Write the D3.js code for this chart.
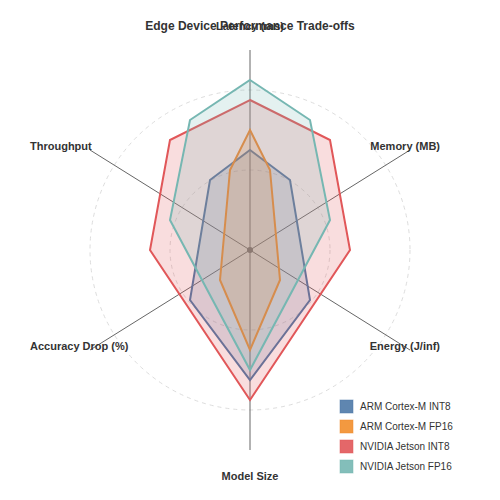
<!DOCTYPE html>
<html>
<head>
<meta charset="utf-8">
<script src="https://cdn.jsdelivr.net/npm/d3@7"></script>
<style>
  html, body { margin: 0; padding: 0; background: #fff; }
  svg { display: block; font-family: "Liberation Sans", Arial, sans-serif; }
</style>
</head>
<body>
<svg id="chart" width="500" height="500"></svg>
<script>
// axis names, clockwise from the top
const axes = ['Latency (ms)', 'Memory (MB)', 'Energy (J/inf)', 'Model Size', 'Accuracy Drop (%)', 'Throughput'];
const seriesNames = ['ARM Cortex-M INT8', 'ARM Cortex-M FP16', 'NVIDIA Jetson INT8', 'NVIDIA Jetson FP16'];
const colors = ['#4e79a7', '#f28e2b', '#e15759', '#76b7b2'];

// vertex positions per series (chart units, y up), one per axis
const armInt8X = [0, 4, 6, 0, -6, -4];
const armInt8Y = [10, 7, -5, -13, -5, 7];
const armFp16X = [0, 2, 3, 0, -3, -2];
const armFp16Y = [12, 8, -3, -10, -3, 8];
const jetsonInt8X = [0, 8, 10, 0, -10, -8];
const jetsonInt8Y = [15, 11, 0, -15, 0, 11];
const jetsonFp16X = [0, 6, 8, 0, -8, -6];
const jetsonFp16Y = [17, 13, 3, -12, 3, 13];

// spoke ends and grid rings
const axisEndX = [0, 16, 16, 0, -16, -16];
const axisEndY = [20, 10, -10, -20, -10, 10];
const gridLevels = [8, 16];

const seriesX = [armInt8X, armFp16X, jetsonInt8X, jetsonFp16X];
const seriesY = [armInt8Y, armFp16Y, jetsonInt8Y, jetsonFp16Y];

const svg = d3.select('#chart');
const x = d3.scaleLinear().domain([-20, 20]).range([50, 450]);
const y = d3.scaleLinear().domain([-20, 20]).range([450, 50]);
const r = d3.scaleLinear().domain([0, 20]).range([0, 200]);

// grid rings
svg.append('g').selectAll('circle')
  .data(gridLevels)
  .join('circle')
  .attr('cx', x(0)).attr('cy', y(0))
  .attr('r', d => r(d))
  .attr('fill', 'none')
  .attr('stroke', '#ddd')
  .attr('stroke-dasharray', '4,4');

// spokes
svg.append('g').selectAll('line')
  .data(axes)
  .join('line')
  .attr('x1', x(0)).attr('y1', y(0))
  .attr('x2', (d, i) => x(axisEndX[i]))
  .attr('y2', (d, i) => y(axisEndY[i]))
  .attr('stroke', '#666')
  .attr('stroke-width', 1);

svg.append('circle')
  .attr('cx', x(0)).attr('cy', y(0)).attr('r', 3)
  .attr('fill', '#666');

// polygons
const line = d3.line().x(d => x(d[0])).y(d => y(d[1])).curve(d3.curveLinearClosed);
const polys = svg.append('g');
seriesNames.forEach((name, s) => {
  const pts = seriesX[s].map((v, i) => [v, seriesY[s][i]]);
  polys.append('path')
    .attr('d', line(pts))
    .attr('fill', colors[s])
    .attr('fill-opacity', 0.2)
    .attr('stroke', colors[s])
    .attr('stroke-width', 2);
});

// axis labels
const labels = svg.append('g')
  .attr('font-size', 11)
  .attr('font-weight', 'bold')
  .attr('fill', '#333');
axes.forEach((a, i) => {
  const ex = axisEndX[i], ey = axisEndY[i];
  let tx, anchor, ty;
  if (ex === 0) { tx = x(0); anchor = 'middle'; ty = ey > 0 ? 30 : 480; }
  else if (ex > 0) { tx = 440; anchor = 'end'; ty = y(ey); }
  else { tx = 30; anchor = 'start'; ty = y(ey); }
  labels.append('text')
    .attr('x', tx).attr('y', ty)
    .attr('text-anchor', anchor)
    .text(a);
});

// title
svg.append('text')
  .attr('x', 250).attr('y', 30)
  .attr('text-anchor', 'middle')
  .attr('font-size', 12)
  .attr('font-weight', 'bold')
  .attr('fill', '#333')
  .text('Edge Device Performance Trade-offs');

// legend
const legend = svg.append('g').attr('transform', 'translate(340,400)');
seriesNames.forEach((name, s) => {
  const row = legend.append('g').attr('transform', `translate(0,${s * 20})`);
  row.append('rect')
    .attr('width', 13).attr('height', 13)
    .attr('fill', colors[s])
    .attr('stroke', colors[s])
    .attr('stroke-opacity', 0.5)
    .attr('fill-opacity', 0.9);
  row.append('text')
    .attr('x', 20).attr('y', 10)
    .attr('font-size', 10)
    .attr('fill', '#333')
    .text(name);
});
</script>
</body>
</html>
